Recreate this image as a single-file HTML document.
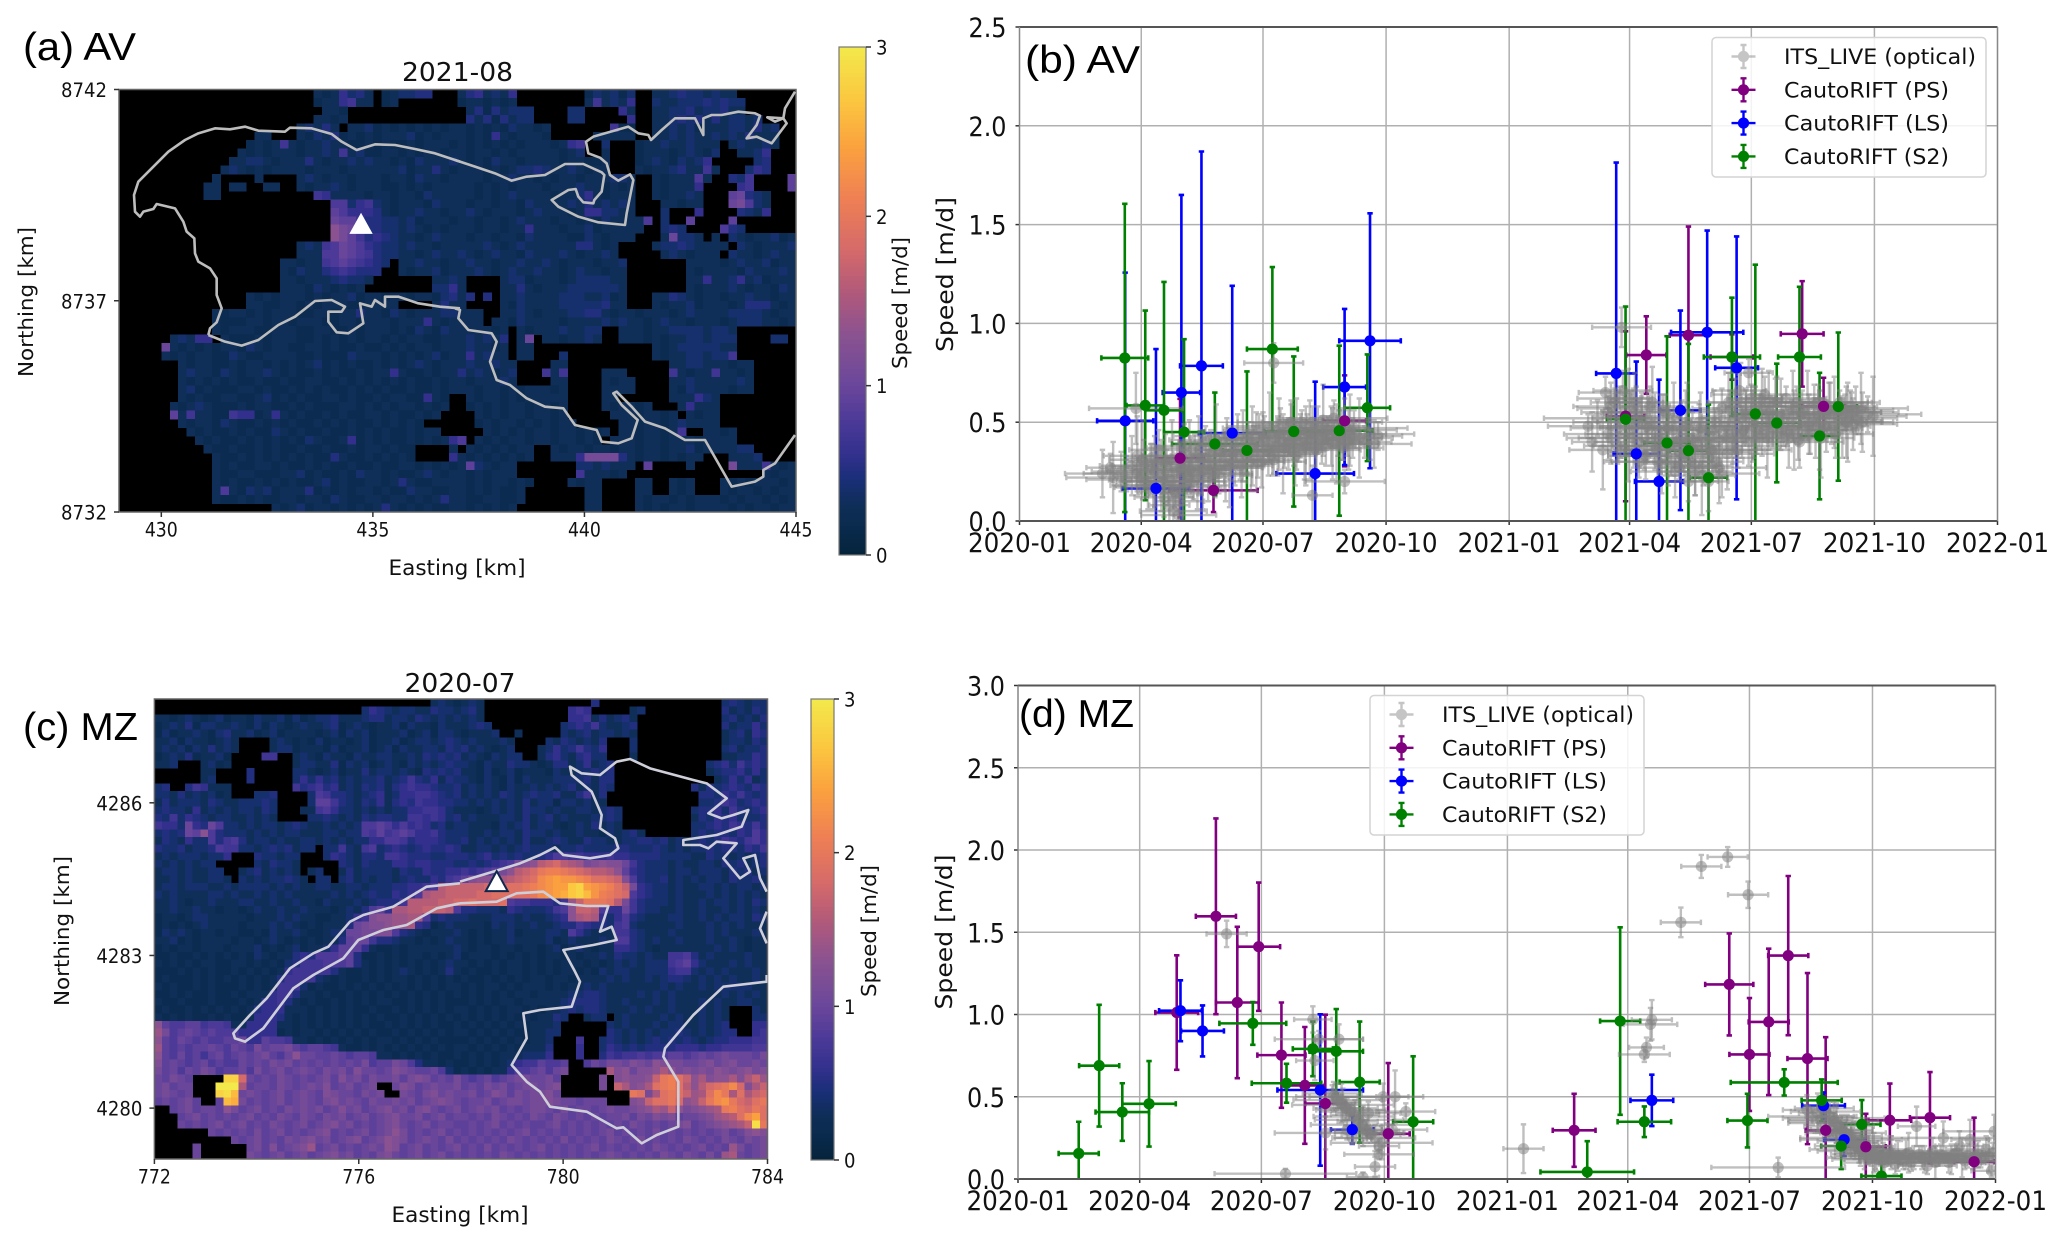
<!DOCTYPE html>
<html lang="en">
<head>
<meta charset="utf-8">
<title>Glacier speed maps and time series</title>
<style>
html,body{margin:0;padding:0;background:#fff;}
svg{display:block;}
text{fill:#111;}
.panel-tag{font-family:"Liberation Sans",sans-serif;font-size:39px;fill:#000;}
</style>
</head>
<body>
<svg id="figure" xmlns="http://www.w3.org/2000/svg" width="2067" height="1247" viewBox="0 0 2067 1247">
<rect x="0" y="0" width="2067" height="1247" fill="#ffffff"/>
<defs>
<clipPath id="clip-a"><rect x="119" y="89.5" width="677" height="422.5"/></clipPath>
<clipPath id="clip-b"><rect x="1019.5" y="27" width="978" height="494"/></clipPath>
<clipPath id="clip-c"><rect x="154.4" y="699" width="613.1" height="460"/></clipPath>
<clipPath id="clip-d"><rect x="1018" y="685.5" width="977.5" height="493.5"/></clipPath>
</defs>
<g id="layer-a"></g>
<g id="layer-c"></g>
<g id="layer-b"></g>
<g id="layer-d"></g>
<g clip-path="url(#clip-a)" fill="none" stroke="#bdbdbd" stroke-width="2.6" stroke-linejoin="round">
<g transform="translate(115 85) scale(.33333)">
<path vector-effect="non-scaling-stroke" d="M280 750L285 730L305 712L320 670L305 630L305 580L285 550L250 530L240 505L238 460L215 440L205 410L180 370L125 357L115 372L85 380L75 395L60 380L57 330L70 290L100 260L130 230L160 200L210 165L250 145L300 130L345 133L390 125L430 137L510 140L525 128L590 130L650 147L680 170L725 195L780 178L840 180L900 192L960 205L1035 230"/>
<path vector-effect="non-scaling-stroke" d="M280 750L330 770L380 782L430 765L490 720L540 695L600 648L650 645L690 665L680 680L640 680L640 710L665 742L700 745L745 715L735 655L770 665L780 645L810 665L810 635L850 635L910 655L975 665L1035 670"/>
</g>
<g transform="translate(455 85) scale(.33333)">
<path vector-effect="non-scaling-stroke" d="M0 225L60 245L120 265L170 287L215 275L270 270L330 237L385 237L440 262L448 270L440 320L418 345L415 355L385 352L370 335L362 312L340 315L290 345L310 365L370 395L430 412L510 420L515 385L530 310L535 285L525 268L490 287L465 270L455 235L435 218L400 205L393 170L415 155L520 125L550 145L580 150L588 165L620 135L660 100L720 100L745 150L745 100L770 90L800 90L850 80L900 85L915 92L905 120L875 160L905 155L950 175L995 115L985 100L960 110L937 97L985 100L990 70L1020 20"/>
<path vector-effect="non-scaling-stroke" d="M0 670L15 675L10 700L40 735L110 745L125 770L105 830L125 885L165 900L215 940L270 965L325 970L360 1020L425 1035L440 1070L490 1075L530 1060L548 1005L500 960L475 925L485 920L530 965L570 1010L630 1030L690 1065L750 1065L830 1205L900 1190L925 1175L925 1155L960 1135L1020 1050"/>
</g>
</g>
<g clip-path="url(#clip-c)" fill="none" stroke="#cfcfda" stroke-width="2.6" stroke-linejoin="round">
<g transform="translate(150 695) scale(.33333)">
<path vector-effect="non-scaling-stroke" d="M930 565L830 575L730 635L640 660L600 680L535 755L490 775L420 820L350 910L300 960L250 1015L255 1030L285 1040L340 1000L430 880L490 840L580 790L625 735L700 705L770 690L860 640L930 625"/>
</g>
<g transform="translate(460 695) scale(.33333)">
<path vector-effect="non-scaling-stroke" d="M0 560L100 530L180 505L240 480L285 457L310 480L390 490L450 480L475 460L465 430L420 400L425 360L395 290L335 240L330 215L365 235L420 240L470 200L510 192L570 220L700 255L740 265L800 310L745 355L785 370L820 360L865 345L845 395L770 420L670 435L670 450L720 450L745 460L770 440L830 445L790 490L840 550L870 530L850 490L885 480L900 550L920 590"/>
<path vector-effect="non-scaling-stroke" d="M0 625L110 620L170 595L250 590L300 625L380 633L445 633L420 710L455 695L470 735L400 750L310 765L345 830L360 860L335 935L240 945L190 955L200 1030L155 1110L200 1160L240 1190L270 1235L380 1250L470 1300L490 1297L545 1345L590 1320L655 1295L655 1160L610 1085L615 1060L700 960L790 875L920 860L920 840"/>
<path vector-effect="non-scaling-stroke" d="M920 650L900 700L920 745"/>
</g>
</g>
<g id="layer-overlay"></g>
<text class="panel-tag" x="23" y="60" textLength="113" lengthAdjust="spacingAndGlyphs">(a) AV</text>
<text class="panel-tag" x="1025" y="73" textLength="115" lengthAdjust="spacingAndGlyphs">(b) AV</text>
<text class="panel-tag" x="23" y="740" textLength="115" lengthAdjust="spacingAndGlyphs">(c) MZ</text>
<text class="panel-tag" x="1019" y="727" textLength="115" lengthAdjust="spacingAndGlyphs">(d) MZ</text>
</svg>
<script>
// ---------- Map data: one character per cell, speed in tenths of m/d (base 36), "." = no data ----------
const speedGridA = [
".......... .......... ...3236453 .234455... 3563436... .....24342 4..3345443 433.......",
".......... .......... ...2336733 .23....... 2332323... .....37343 6..4334445 4544......",
".......... .......... ....332... .......... .35253444. ...44....6 3..3344534 4533......",
".......... .......... ...3323... .......... .53525344. ...44..... 6..3345453 534434....",
".......... .......... .34353.334 2323232323 3232324332 3.......72 2..3343423 33443534..",
".......... ......33.. .324352323 2333423233 3232632333 2.....3333 3..3343433 43435333..",
".......... .....23237 3233433223 2322323332 3232323233 32367..4.. .233433433 3.343343..",
".......... ....323233 3233437342 2332323323 3233232333 33234..3.. .233323432 4..3346...",
".......... ...3344323 3353233434 3323243334 3232433233 33233223.. .234324346 .....45...",
".......... ..34323233 3323332333 3334233532 3332323445 43343233.. .323345337 3...465...",
".......... .3....3... .343233233 3233243323 3332334332 3233233344 3..3233383 ..547....9",
".......... 33.33..33. .323343233 3223232333 3323232333 2333433232 3..323336. ...67....9",
".......... 33........ ...7633332 3323324333 3323234333 3233463233 3..323343. ..9a543...",
".......... .......... .....88467 4323332433 3233233243 3334353434 3...33233. ..ab843...",
".......... .......... .....98666 5323343323 3432333234 3332366443 3...4...6. ...5436...",
".......... .......... .....a9975 5443423332 3323323433 3233232433 338.4..9.. ..9.......",
".......... .......... .....dba65 5443432323 3323323363 3323342333 33..454... .854......",
".......... .......... .....db975 6543323433 3233233243 3332243233 3...3a443. 3.43233423",
".......... .......... .34378a986 5443433233 3334323433 333355323. ...3445433 33.4323334",
".......... .......... .33388a987 5443323433 4323433243 334323343. ....343233 3.43323433",
".......... .........3 3233789876 54.3343323 3433233433 4323332334 .......333 3234334233",
".......... .........3 2433567655 5..3233423 3343234334 3323433233 .......323 3332433343",
".......... .........3 3233345443 .......334 3....34423 3323444433 .......336 3346342333",
".......... .........3 332432323. .......446 3....33532 3334444443 .......323 3343233243",
".......... .....32323 3323233423 3233233245 35.5.33433 3344433423 ...3354323 3233433233",
".......... .....33223 3232333223 333....353 3....32433 3344444533 ...3233423 3323555323",
".......... .323323233 3223323353 3243233344 333..33432 3334455323 3233323433 3344443233",
".......... .322233233 2333223323 3323336323 333.332433 3323333434 3323433233 3234443323",
".......... .323332233 3223322323 3323243243 333323.323 3343344..3 3323344443 443.......",
"......3436 6.32223233 3223232323 3232332233 343435.3a. 3323343..3 3323233443 444....44.",
".....a3232 3233243233 2233232232 2323233233 343323.33. .......... ...3234444 433.......",
".....32323 3224322333 3223222433 3232323423 363433.33. ..4....... ...3233443 447.......",
".......323 3223233232 3234232322 3232343233 3433433... .33....... .....33443 33233.....",
".......343 3243233432 3223232232 3363223233 5343234... 737....333 .....73233 73323.....",
".......323 2323223223 2233223232 3232322323 3233343... .33....323 3....33433 33343.....",
".......342 3222332322 3232322323 2322322323 3323323233 323....333 3....32433 33233.....",
".......323 2233223423 2322332322 323322632. .323323233 333....33. .....33364 3.........",
"......3234 3222323322 3232223323 232332323. .232323323 323....323 323...3633 3.........",
"......9373 3227662363 2322323223 32322323.. ..32323323 323.....33 323323.323 3.........",
".......323 3243223232 3223232322 323232.... ..23233232 3233.....3 3233234333 3.........",
"........32 3223232243 2322322323 23223233.. ...3232323 32332323.3 3233237..3 323.......",
".........3 2322323232 3243223623 2322323236 8.32323323 3233232.33 3233233323 333.......",
".......... 3223223232 2322322323 32322....3 .32323233. .323323323 3233233423 33344.....",
".......... .322323232 3232253223 23232....6 323232323. .3336bbbb5 323323233. ..3334....",
".......... .323223323 2232322322 3223323232 3943233... ....443433 3.9....3.. ..b3337323",
".......... .322332223 3423223243 3232234323 3232333... ....733323 .......... ......3233",
".......... .323223232 3223423223 3235322333 323233232. ...3233... .33..323.. .323233323",
".......... .383243423 3352323233 2322433223 32323223.. .....33... .33..323.. .323323233",
".......... .322323223 3233243223 3233232353 32233223.. .....33... .323323233 3232332323",
".......... ........32 3423323232 3532323223 3232323... .....33... .323233233 3323233233"
];
const speedGridC = [
".......... .......... .......... ......3432 343....... .......5.. .......... ....454344",
".......... .......... .......465 4344335443 453....... ....676... ..34...... ....534354",
"3323432342 3324334242 3445333455 3443543434 343....... ....667353 453....... ....453435",
"2343524433 4324243234 3345234323 3424332433 3454...... ...4565743 345....... ....534464",
"2423343245 3342342333 3234243423 3342342443 23334..3.. ...4345344 343....... ....345365",
"3342433234 3....34323 2423323423 3423443454 3433343... .43543435. ..4....... ....344354",
"3434243534 3....34423 3324233423 4243344354 5343234... 346457546. ..4....... ....453445",
"2343523342 ....77..34 3243324334 4334354545 34324344.. 356435644. ..3....... ....334465",
"334...3423 ........34 4335243423 4324343454 4324335443 2355346345 .......... ..45647565",
"......33.. ..5.....44 3234233534 4343254545 3324234233 3243344545 .......... ..34556464",
"......34.. ..5.....46 4645343445 3457546354 4324324243 3344445355 .......... ...3464634",
"45..576333 ........75 6756343545 3567665445 3434324334 3434534354 .......... 5354565465",
"4435343423 ...445.... 4875543456 3466776545 3434354345 445335735. .......... .554657545",
"3534443543 344454.... 4997543546 3565766554 4343434353 442443433. .......... .445764565",
"4544363434 344354...3 3786443434 3446677643 3323434354 4343344345 4......... 4556475456",
"5474654344 334343.... 4454343545 5447767645 3433344353 4534333445 4......... 3546564445",
"7664a65a84 4343443454 3343434889 8686764534 4333243453 4432343534 3......... 4456576575",
"4545a9d854 4434343443 3344344879 7898667544 4334344354 4343343324 3453...... 4545546586",
"3543644857 8534434334 4343434466 8875666544 5343434353 3454335443 3445545343 4545765786",
"5445344587 7443454534 4.44743784 5654565565 3344343454 4434454444 5544454343 4454554657",
"3434443446 ...544344. ..46543554 7765554455 5456454544 5688776667 6655554444 3354434345",
"43434344.. ...435443. ....543544 4665665554 4545678bcd ghigfebcdc ca75444343 3443545345",
"344343344. .34534343. 34..353444 4354465566 76789bdghi kllkjihggf d965444344 3444354534",
"3343433443 .434344543 .44.453434 4345446578 9cddffghij mnonnmljji hc85445343 4344354453",
"3443444334 3444434343 3443344344 4556678ghh hhhiiijjkl mnoorsonml jhb6544343 3443434434",
"4343333443 4334343433 3334343454 46568fgghh hhiijjjjjk mnoprsqnlk ji86544343 3343434343",
"3343233433 3443343343 3243334345 557gggghhi ijiiij8776 6657ehkkkj gb75444343 3434434354",
"3343343323 3234334334 3332343589 6ffgghhhg8 5544436544 4578dhhg86 6a75443343 3433434343",
"2332344333 3323334343 32233467cd deeff84544 4333444343 3456dfgf64 6854333443 3434344354",
"2323234333 3233343432 323335abcc deef652343 3332434334 3345576554 7843333343 3343434333",
"2434323323 3223243343 22344aabbc c854323334 3232334233 3443864333 7754333433 3343433343",
"3342323333 2332343232 323359aa75 5433232343 3232334333 3423433343 8854343343 3343343233",
"2323323332 3334232342 3346999632 2323333334 3233233233 2342343233 6654323333 3334343233",
"2232232323 2324323356 5888995223 2323323234 2333232323 2332323343 5443433778 5343333433",
"3232323322 3323232457 7788895323 2323232343 3232323323 2323332323 4343444789 6433343433",
"2223232322 3232323677 7775322323 2343232353 2322323323 2323323243 4433444677 4343433343",
"2322232323 2323235777 7432322323 2332323232 3223232323 3233233334 3433434554 3434343343",
"3232232322 2323237774 2322323232 3232323233 2323323233 3232334343 3333334343 3434444433",
"2232322322 3233367753 3232232323 2323232323 2323232332 3333445543 3334343433 3333434343",
"3223222322 2323667532 3223232323 3223232322 2323233233 3334555543 3433343433 3434334433",
"2322323232 3235666333 2323232232 2323232323 3232323323 2334545543 3343433433 34343...43",
"3232322323 2236665323 2323232323 2232323232 3232323232 3354..344. 3433334343 34343...44",
"d988997887 3366663323 2323232322 3232323223 2323232323 334......4 3433343443 34345...66",
"eb89a98988 8666662323 3232323232 2323232323 3232323223 344......5 4343434454 343455..67",
"d98a989889 9a66988733 2323232323 3232323222 2323232323 34...7..45 4343454545 4345566677",
"e989899a98 a98b9aab98 9987322323 2323232323 3232323233 35...6..46 5454555566 6566777788",
"d98a8979a8 9a9ab98ada a99a989983 3232323223 2323233344 46...6..57 6778788998 9a9abaaa9b",
"c9a989a898 8a9a9bab9a 9a9a9a9b89 9ba8533232 2323234677 9889..8a9b bacbadcbba abcabcaaba",
"b9a8a9ba89 9a8b9ab9ab a9bab9caa9 acba99a842 3232336889 a8ab.....f cdaccdfdbc bcbdcbcdbc",
"a9ba9....s sia9a9ba9a 9ab9cab9ba ab9bcb9a9b 989a89abba ab9.....b. cdccdhkljh dfcddfcfhe",
"ab9aa...uu uf9aa9ba9a bac9ab9ab. .acb9abaab 9a9bab9abb abc.....b. hfcdfjkljg dgijkmicfh",
"aba9a...st qaba9ab9ab a9cbaa9bab ..ba9bcaba ab9acb9bab bca....... ..kjbfjkjh efjmkfjfhi",
"9a9ab9..9q pb9a9ab9ab a9bcaba9ba abab9abcba 9aab9abbab bcbaa9aaa. ..cdhjjkid ehkmnkihjk",
"..9ab9aa9d b9ab9a9bab ab9acab9ab cab9bca9ab 9abab9a9ab ba9b9aa9ab aabcdfehdb cdefkljikj",
"...9ab9a9a 9ab9a9ba9b a9bab9ab9a bcaab9ab9a a9a9ba9a9b a9ba9a9a9a ab9bacbc9a abcefgjmoj",
"...a9a9ab9 ab9a9ba9ab 9abcab9a9a bca9ab9aa9 9a9ab9a9a9 9ab9a9a9a9 a9ba9a9abc 9abcdefhtk",
".......a9a 9a9b9ab9a9 abc9a9ab9a bdb9a9ab9a 9a9a9a9ab9 a9a9a9a9ab 9a9a9b9a9a 9a9ab9acdc",
".......... a9ab9a9bab cab9abc9ab dcb9aba9b9 a9a9a9ba9a 9a9b9a9a9b a9ab9a9a9b a9a9ba9bab",
".....a.... ..ab9c9abc e9ab9a9aba dc9ab9a9ab 9a9b9a9a9a b9a9a9ab9a 9a9a9ba9a9 ab9a9eb9ab",
".....a.... ..ba9ab9ab 9abcab9a9b ca9ab9ab9a 9a9a9ba9a9 a9a9a9a9ab a9a9a9ba9b a9b9efa9ab"
];
const stationEastA = 434.72, stationNorthA = 8738.82;
const stationEastC = 778.7, stationNorthC = 4284.46;
const xTicksA = [430, 435, 440, 445];
const yTicksA = [8732, 8737, 8742];
const xTicksC = [772, 776, 780, 784];
const yTicksC = [4280, 4283, 4286];
const colorbarTicks = [0, 1, 2, 3];
const thermalStops = ["#05233a","#092a4c","#0f2e58","#1a2f78","#33308d","#4d3a98","#6a469b","#8a5290","#b0597a","#d56a6a","#ee7f55","#fba03f","#fbc840","#f3e94b"];
const thermalSpeeds = [0, 0.15, 0.3, 0.45, 0.6, 0.8, 1, 1.3, 1.55, 1.8, 2.1, 2.4, 2.7, 3];

// ---------- Time series data: days since 2020-01-01, speed in m/d ----------
const dateTickLabels = ["2020-01","2020-04","2020-07","2020-10","2021-01","2021-04","2021-07","2021-10","2022-01"];
const speedTicksB = [0, 0.5, 1, 1.5, 2, 2.5];
const speedTicksD = [0, 0.5, 1, 1.5, 2, 2.5, 3];
const legendLabels = ["ITS_LIVE (optical)","CautoRIFT (PS)","CautoRIFT (LS)","CautoRIFT (S2)"];
const legendColors = ["#808080","#800080","#0000ff","#008000"];

// Panel b, AV
const itsDaysB = [62,68,70,76,80,84,88,92,95,98,100,103,106,108,110,112,113,115,116,118,119,120,122,124,126,128,130,134,138,142,146,150,154,158,162,166,170,174,178,182,186,190,194,198,202,206,210,214,218,222,226,230,234,238,242,246,250,254,258,262,265,268,87,190,243,219,203,
88,90,93,96,99,101,104,107,109,111,114,117,120,123,125,127,129,131,133,135,137,139,141,143,145,147,149,151,153,155,157,159,161,163,165,167,169,171,173,175,177,179,181,183,185,187,189,191,193,195,197,199,201,203,205,207,209,211,213,215,217,219,221,223,225,227,229,231,233,235,237,239,241,243,245,247,249,
425,428,432,436,438,440,442,445,447,450,452,455,458,460,463,465,468,470,473,475,478,480,483,485,488,490,493,495,498,500,503,505,508,510,513,515,518,520,523,525,528,530,533,535,538,540,543,545,548,550,553,555,558,560,563,566,570,574,578,582,586,590,594,598,602,606,610,614,618,622,626,630,634,638,
440,442,445,447,449,451,453,455,457,459,461,463,465,467,469,471,473,475,477,479,481,483,485,487,489,491,493,495,497,499,501,503,505,507,509,511,513,515,517,519,521,523,525,527,529,531,533,535,537,539,541,543,545,547,549,551,553,555,557,559,561,563,565,567,569,571,573,575,577,579,581,583,585,587,589,591,593,595,597,599,601,603,605,607,609,611,613,615,617,619,621,623,625,627,629];
const itsSpeedsB = [.24,.27,.22,.25,.21,.28,.24,.31,.2,.26,.18,.29,.23,.12,.3,.08,.2,.05,.15,.26,.03,.1,.18,.3,.22,.27,.2,.33,.26,.3,.24,.34,.28,.31,.36,.27,.33,.38,.3,.42,.35,.31,.44,.37,.4,.33,.45,.38,.42,.36,.41,.46,.39,.43,.37,.41,.47,.42,.4,.44,.39,.43,.57,.8,.2,.13,.5,
.33,.22,.28,.18,.32,.25,.36,.2,.29,.17,.31,.14,.27,.37,.2,.33,.25,.38,.21,.3,.26,.4,.23,.34,.28,.41,.24,.36,.3,.43,.27,.35,.31,.42,.28,.38,.33,.44,.3,.39,.35,.46,.3,.41,.36,.47,.33,.42,.38,.48,.34,.43,.39,.49,.35,.44,.4,.5,.36,.45,.41,.5,.37,.46,.42,.51,.38,.47,.43,.52,.39,.48,.44,.5,.4,.46,.42,
.48,.4,.52,.36,.65,.44,.58,.6,.47,.98,.38,.62,.42,.55,.3,.5,.33,.47,.6,.36,.42,.29,.55,.38,.46,.25,.41,.33,.48,.2,.37,.28,.5,.23,.44,.32,.35,.5,.27,.57,.42,.6,.38,.52,.66,.45,.55,.75,.48,.58,.43,.62,.5,.56,.47,.6,.52,.45,.58,.41,.55,.49,.6,.46,.53,.57,.44,.56,.5,.55,.52,.5,.54,.53,
.55,.42,.62,.38,.5,.66,.44,.35,.57,.47,.6,.4,.53,.33,.48,.58,.38,.5,.3,.44,.56,.36,.47,.3,.52,.4,.27,.46,.34,.5,.3,.42,.25,.38,.47,.28,.4,.2,.36,.46,.3,.41,.24,.48,.34,.56,.42,.5,.36,.6,.46,.53,.4,.62,.5,.44,.58,.48,.64,.42,.55,.5,.6,.44,.54,.48,.62,.42,.52,.46,.6,.4,.54,.48,.58,.44,.52,.47,.6,.42,.54,.48,.58,.46,.55,.5,.6,.47,.55,.5,.58,.49,.56,.51,.57];
const itsDayErrB = [28,18,35,22,30,15,40,25,20,33];
const itsSpeedErrB = [.12,.07,.18,.1,.06,.15,.09,.2,.08,.13];
const psDaysB = [120,145,243,453,468.5,500,532.5,585,601];
const psSpeedsB = [.318,.155,.507,.53,.84,.94,.83,.947,.58];
const psDayErrB = [18,33,16,14,15,14,16,16,16];
const psSpeedErrB = [.3,.11,.23,.43,.196,.55,.115,.267,.145];
const lsDaysB = [79,102,121,136,159,221,243,262,446,461,478,494,514,536];
const lsSpeedsB = [.507,.165,.65,.785,.445,.24,.678,.912,.747,.34,.2,.56,.955,.775];
const lsDayErrB = [21,25,14,16,25,29,16,23,15,17,18,15,27,16];
const lsSpeedErrB = [.75,.705,1,1.085,.745,.465,.395,.645,1.067,.467,.515,.505,.515,.665];
const s2DaysB = [78.7,94,108,123,146,170,189,205,239,260,453,484,500,515,532.5,550,566,583,598,612];
const s2SpeedsB = [.825,.585,.56,.45,.39,.357,.87,.453,.457,.573,.515,.395,.356,.219,.83,.542,.496,.83,.43,.579];
const s2DayErrB = [17.5,14,14,15,32,18,19,22,25,17,14,17,14,14,21,16,18,16,14,14];
const s2SpeedErrB = [.78,.48,.65,.47,.26,.4,.415,.38,.43,.27,.57,.54,.54,.37,.3,.755,.3,.355,.32,.375];

// Panel d, MZ
const itsDaysD = [156,200,220.5,282,378,258,267,470,468.4,474,473,495.7,511,530.7,546,568.5];
const itsSpeedsD = [1.49,.032,.97,.5,.184,.01,.075,.8,.757,.968,.94,1.56,1.9,1.958,1.728,.07];
const itsDayErrD = [15,53,14,10,15,12,15,13,19,15,20,15,15,15,15,50];
const itsSpeedErrD = [.08,.03,.08,.16,.148,.03,.06,.06,.045,.12,.1,.09,.07,.06,.08,.06];
const itsClusterDaysD = [235,238,241,243,246,249,252,255,258,261,264,267,270,272,276,280,240,225,222,262,290,273,250,230,246,270,236,239,242,245,248,251,254,257,260,263,
590,594,598,600,603,606,608,610,612,614,616,618,620,622,624,626,628,630,632,634,636,638,640,642,645,648,650,653,656,660,664,668,672,676,680,684,688,692,696,700,704,708,712,716,720,724,728,730,
601,604,607,610,612,615,617,619,621,623,625,627,629,631,633,635,637,641,644,647,651,655,658,662,666,670,674,678,682,686,690,694,698,702,706,710,714,718,722,726,729];
const itsClusterSpeedsD = [.52,.5,.47,.45,.43,.42,.39,.36,.32,.29,.27,.25,.2,.22,.28,.3,.85,.85,.72,.4,.41,.5,.25,.28,.3,.15,.5,.48,.46,.43,.41,.38,.35,.33,.3,.28,
.42,.38,.4,.36,.43,.34,.3,.37,.28,.32,.3,.25,.27,.23,.26,.2,.22,.18,.2,.15,.18,.13,.16,.12,.14,.1,.13,.16,.09,.12,.15,.1,.32,.13,.08,.17,.12,.25,.1,.15,.2,.11,.24,.14,.12,.18,.05,.29,
.44,.41,.38,.35,.34,.3,.29,.28,.25,.24,.22,.2,.19,.17,.18,.16,.15,.14,.13,.12,.14,.13,.14,.11,.16,.13,.15,.12,.14,.1,.15,.13,.12,.16,.13,.14,.11,.15,.13,.14,.16];
const itsClusterDayErrD = [22,30,15,38,12,26,18,33,14,24];
const itsClusterSpeedErrD = [.05,.08,.04,.1,.06,.03,.09,.05,.12,.07];
const psDaysD = [118.7,148,164,180,197,214.5,229.8,276.9,415.9,531.9,547,561.4,576,590.4,604,634,652,682,715];
const psSpeedsD = [1.012,1.597,1.073,1.412,.753,.569,.459,.275,.296,1.183,.757,.955,1.358,.732,.296,.196,.357,.373,.105];
const psDayErrD = [16,15,16,16,18,15,15,16,16,18,15,15,15,15,15,15,16,15,15];
const psSpeedErrD = [.348,.595,.46,.39,.32,.355,.54,.43,.222,.31,.343,.445,.484,.52,.566,.2,.223,.277,.268];
const lsDaysD = [121.5,138,226,250,474,602.4,617.8];
const lsSpeedsD = [1.023,.9,.541,.3,.478,.446,.239];
const lsDayErrD = [16,16,32,16,16,16,15];
const lsSpeedErrD = [.185,.155,.46,.084,.156,.08,.1];
const s2DaysD = [45.4,60.7,78,98,175.6,200.8,220.5,238,255.5,295.5,425.7,450.3,468.4,545.5,573,601,615.6,631,645.7];
const s2SpeedsD = [.155,.689,.407,.457,.946,.582,.791,.776,.589,.348,.043,.96,.348,.355,.587,.478,.2,.332,.018];
const s2DayErrD = [15,15,20,20,25,26,15,20,15,15,35,15,20,15,40,15,15,14,15];
const s2SpeedErrD = [.193,.37,.175,.26,.13,.118,.166,.257,.368,.398,.187,.57,.093,.163,.08,.127,.14,.148,.15];

// ---------- Drawing ----------
const NS = "http://www.w3.org/2000/svg";
const TICK_FONT = '"DejaVu Sans",sans-serif';
function make(parent, tag, attrs){
  const el = document.createElementNS(NS, tag);
  for (const k in attrs) el.setAttribute(k, attrs[k]);
  parent.appendChild(el);
  return el;
}
function label(parent, x, y, str, size, anchor, len, name, rotate){
  const el = make(parent, "text", {x:x, y:y, "font-size":size, "font-family":TICK_FONT, "text-anchor":anchor});
  if (len) { el.setAttribute("textLength", len); el.setAttribute("lengthAdjust", "spacingAndGlyphs"); }
  if (rotate) el.setAttribute("transform", "rotate(-90 " + x + " " + y + ")");
  el.textContent = str;
  
  
  return el;
}
function hexToRgb(h){ return [parseInt(h.substr(1,2),16),parseInt(h.substr(3,2),16),parseInt(h.substr(5,2),16)]; }
function speedColor(v){
  let i = 0;
  while (i < thermalSpeeds.length-2 && v > thermalSpeeds[i+1]) i++;
  const t = Math.max(0, Math.min(1, (v-thermalSpeeds[i])/(thermalSpeeds[i+1]-thermalSpeeds[i])));
  const a = hexToRgb(thermalStops[i]), b = hexToRgb(thermalStops[i+1]);
  return "rgb(" + a.map((c,k)=>Math.round(c+(b[k]-c)*t)).join(",") + ")";
}

function drawMap(cfg){
  const g = document.getElementById(cfg.layer);
  const sx = v => cfg.left + (v-cfg.xMin)/(cfg.xMax-cfg.xMin)*(cfg.right-cfg.left);
  const sy = v => cfg.bottom - (v-cfg.yMin)/(cfg.yMax-cfg.yMin)*(cfg.bottom-cfg.top);
  const bg = make(g, "rect", {x:cfg.left, y:cfg.top, width:cfg.right-cfg.left, height:cfg.bottom-cfg.top, fill:"#000"});
  
  
  const rows = cfg.grid.length;
  const cw = (cfg.right-cfg.left)/cfg.cols, ch = (cfg.bottom-cfg.top)/rows;
  const cells = make(g, "g", {"shape-rendering":"crispEdges"});
  
  
  cfg.grid.forEach((row, r) => {
    row.split(" ").forEach((block, b) => {
      for (let i = 0; i < block.length; i++) {
        const ch0 = block[i];
        if (ch0 === ".") continue;
        const speed = parseInt(ch0, 36)/10;
        const rect = make(cells, "rect", {x:(cfg.left+(b*10+i)*cw).toFixed(2), y:(cfg.top+r*ch).toFixed(2), width:(cw+.4).toFixed(2), height:(ch+.4).toFixed(2), fill:speedColor(speed)});
        
        
      }
    });
  });
  const frame = make(g, "rect", {x:cfg.left, y:cfg.top, width:cfg.right-cfg.left, height:cfg.bottom-cfg.top, fill:"none", stroke:"#666", "stroke-width":1.5});
  
  
  cfg.xTicks.forEach(t => {
    const tick = make(g, "line", {x1:sx(t), x2:sx(t), y1:cfg.bottom, y2:cfg.bottom+5, stroke:"#333", "stroke-width":1.5});
    
    
    label(g, sx(t), cfg.bottom+24.5, String(t), 19.5, "middle", 33, "x-tick-label");
  });
  cfg.yTicks.forEach(t => {
    const tick = make(g, "line", {x1:cfg.left-5, x2:cfg.left, y1:sy(t), y2:sy(t), stroke:"#333", "stroke-width":1.5});
    
    
    label(g, cfg.left-12, sy(t)+7.5, String(t), 19.5, "end", 46, "y-tick-label");
  });
  label(g, cfg.titleX, cfg.titleY, cfg.title, 26, "middle", 111, "map-title");
  label(g, cfg.xLabelX, cfg.xLabelY, "Easting [km]", 21, "middle", 137, "x-axis-title");
  label(g, cfg.yLabelX, cfg.yLabelY, "Northing [km]", 20, "middle", 150, "y-axis-title", true);
  // colour bar
  const cb = make(g, "g", {"shape-rendering":"crispEdges"});
  
  
  const steps = 120, h = (cfg.cbBottom-cfg.cbTop)/steps;
  for (let i = 0; i < steps; i++) {
    const s = make(cb, "rect", {x:cfg.cbLeft, y:(cfg.cbBottom-(i+1)*h).toFixed(2), width:cfg.cbRight-cfg.cbLeft, height:(h+.5).toFixed(2), fill:speedColor((i+.5)/steps*3)});
    
    
  }
  const cbf = make(g, "rect", {x:cfg.cbLeft, y:cfg.cbTop, width:cfg.cbRight-cfg.cbLeft, height:cfg.cbBottom-cfg.cbTop, fill:"none", stroke:"#777", "stroke-width":1.2});
  
  
  colorbarTicks.forEach(t => {
    const y = cfg.cbBottom - t/3*(cfg.cbBottom-cfg.cbTop);
    const tick = make(g, "line", {x1:cfg.cbRight, x2:cfg.cbRight+5, y1:y, y2:y, stroke:"#333", "stroke-width":1.5});
    
    
    label(g, cfg.cbRight+10, y+7.5, String(t), 19.5, "start", 11.5, "colorbar-tick-label");
  });
  label(g, cfg.cbLabelX, cfg.cbLabelY, "Speed [m/d]", 20, "middle", 132, "colorbar-title", true);
  // station marker
  const ov = document.getElementById("layer-overlay");
  const px = sx(cfg.stationX), py = sy(cfg.stationY);
  const tri = make(ov, "polygon", {points:[[px,py-cfg.triH],[px-cfg.triW,py+cfg.triH],[px+cfg.triW,py+cfg.triH]].join(" "), fill:"#fff", stroke:cfg.triStroke, "stroke-width":2, "stroke-linejoin":"miter"});
  
  
}

function dayOfLabel(s){
  const p = s.split("-");
  return (Date.UTC(+p[0], +p[1]-1, 1) - Date.UTC(2020, 0, 1)) / 86400000;
}

function plotBars(g, sx, sy, days, speeds, dayErrs, speedErrs, color, opacity, width, name){
  days.forEach((d, i) => {
    const v = speeds[i];
    const dx = dayErrs[i % dayErrs.length], dy = speedErrs[i % speedErrs.length];
    const x = sx(d), y = sy(v);
    const capH = 2.7, capV = 2.7;
    const bar = make(g, "path", {d:"M"+sx(d-dx)+" "+y+"H"+sx(d+dx)+"M"+sx(d-dx)+" "+(y-capH)+"V"+(y+capH)+"M"+sx(d+dx)+" "+(y-capH)+"V"+(y+capH)+
      "M"+x+" "+sy(v-dy)+"V"+sy(v+dy)+"M"+(x-capV)+" "+sy(v-dy)+"H"+(x+capV)+"M"+(x-capV)+" "+sy(v+dy)+"H"+(x+capV), fill:"none", stroke:color, "stroke-width":width, opacity:opacity});
    
    
  });
}
function plotDots(g, sx, sy, days, speeds, color, opacity, name){
  days.forEach((d, i) => {
    const dot = make(g, "circle", {cx:sx(d), cy:sy(speeds[i]), r:5.6, fill:color, opacity:opacity});
    
    
  });
}

function drawSeries(cfg){
  const g = document.getElementById(cfg.layer);
  const sx = d => cfg.left + d/731*(cfg.right-cfg.left);
  const sy = v => cfg.bottom - v/cfg.yMax*(cfg.bottom-cfg.top);
  const plotBg = make(g, "rect", {x:cfg.left, y:cfg.top, width:cfg.right-cfg.left, height:cfg.bottom-cfg.top, fill:"#fff"});
  
  
  dateTickLabels.forEach(t => {
    const x = sx(dayOfLabel(t));
    const grid = make(g, "line", {x1:x, x2:x, y1:cfg.top, y2:cfg.bottom, stroke:"#b0b0b0", "stroke-width":1.5});
    
    
    const tick = make(g, "line", {x1:x, x2:x, y1:cfg.bottom, y2:cfg.bottom+4, stroke:"#333", "stroke-width":1.5});
    
    
    label(g, x, cfg.bottom+31, t, 27, "middle", 103, "x-tick-label");
  });
  cfg.yTicks.forEach(t => {
    const y = sy(t);
    const grid = make(g, "line", {x1:cfg.left, x2:cfg.right, y1:y, y2:y, stroke:"#b0b0b0", "stroke-width":1.5});
    
    
    const tick = make(g, "line", {x1:cfg.left-4, x2:cfg.left, y1:y, y2:y, stroke:"#333", "stroke-width":1.5});
    
    
    label(g, cfg.left-13, y+10, t.toFixed(1), 27, "end", 38, "y-tick-label");
  });
  const series = make(g, "g", {"clip-path":"url(#"+cfg.clip+")"});
  
  
  // colored error bars sit under the grey optical cloud; their markers sit on top
  cfg.colored.forEach(s => plotBars(series, sx, sy, s[0], s[1], s[2], s[3], s[4], 1, 2.6, s[5]+"-errorbar"));
  cfg.grey.forEach(s => {
    plotBars(series, sx, sy, s[0], s[1], s[2], s[3], "#808080", .5, 2.4, "its-live-errorbar");
    plotDots(series, sx, sy, s[0], s[1], "#808080", .5, "its-live-point");
  });
  cfg.colored.forEach(s => plotDots(series, sx, sy, s[0], s[1], s[4], 1, s[5]+"-point"));
  const spine = make(g, "path", {d:"M"+cfg.left+" "+cfg.top+"H"+cfg.right+"M"+cfg.left+" "+cfg.bottom+"H"+cfg.right, stroke:"#555", "stroke-width":2, fill:"none"});
  
  
  const sides = make(g, "path", {d:"M"+cfg.left+" "+cfg.top+"V"+cfg.bottom+"M"+cfg.right+" "+cfg.top+"V"+cfg.bottom, stroke:"#888", "stroke-width":1.3, fill:"none"});
  
  
  label(g, cfg.yLabelX, cfg.yLabelY, "Speed [m/d]", 23, "middle", 155, "y-axis-title", true);
  // legend
  const lg = make(g, "g", {});
  
  
  const box = make(lg, "rect", {x:cfg.lgX, y:cfg.lgY, width:274, height:cfg.lgH, rx:4, fill:"#fff", "fill-opacity":.85, stroke:"#d4d4d4", "stroke-width":1.5});
  
  
  legendLabels.forEach((t, i) => {
    const y = cfg.lgY + 19 + i*33.3, x = cfg.lgX + 31.5;
    const entry = make(lg, "g", {opacity:i===0?.45:1});
    
    
    make(entry, "path", {d:"M"+(x-12)+" "+y+"H"+(x+12)+"M"+x+" "+(y-11.5)+"V"+(y+11.5)+"M"+(x-3)+" "+(y-11.5)+"H"+(x+3)+"M"+(x-3)+" "+(y+11.5)+"H"+(x+3), stroke:legendColors[i], "stroke-width":2.4, fill:"none"});
    make(entry, "circle", {cx:x, cy:y, r:5.6, fill:legendColors[i]});
    label(lg, cfg.lgX+72, y+7.5, t, 21, "start", i===0?192:165, "legend-label");
  });
}

drawMap({layer:"layer-a", grid:speedGridA, cols:80, left:119, right:796, top:89.5, bottom:512, xMin:429, xMax:445, yMin:8732, yMax:8742, xTicks:xTicksA, yTicks:yTicksA,
  title:"2021-08", titleX:457.5, titleY:81, xLabelX:457, xLabelY:575, yLabelX:33, yLabelY:302,
  cbLeft:839, cbRight:866, cbTop:47, cbBottom:555, cbLabelX:907, cbLabelY:303, stationX:stationEastA, stationY:stationNorthA, triW:10, triH:9, triStroke:"#ffffff"});
drawMap({layer:"layer-c", grid:speedGridC, cols:80, left:154.4, right:767.5, top:699, bottom:1159, xMin:772, xMax:784, yMin:4279, yMax:4288.04, xTicks:xTicksC, yTicks:yTicksC,
  title:"2020-07", titleX:460, titleY:692, xLabelX:460, xLabelY:1222, yLabelX:69, yLabelY:931,
  cbLeft:811, cbRight:834, cbTop:699, cbBottom:1160, cbLabelX:876, cbLabelY:931, stationX:stationEastC, stationY:stationNorthC, triW:11, triH:10, triStroke:"#10284f"});
drawSeries({layer:"layer-b", clip:"clip-b", left:1019.5, right:1997.5, top:27, bottom:521, yMax:2.5, yTicks:speedTicksB, yLabelX:953, yLabelY:274.5, lgX:1712, lgY:37.5, lgH:139.5,
  grey:[[itsDaysB, itsSpeedsB, itsDayErrB, itsSpeedErrB]],
  colored:[
    [psDaysB, psSpeedsB, psDayErrB, psSpeedErrB, "#800080", "cautorift-ps"],
    [lsDaysB, lsSpeedsB, lsDayErrB, lsSpeedErrB, "#0000ff", "cautorift-ls"],
    [s2DaysB, s2SpeedsB, s2DayErrB, s2SpeedErrB, "#008000", "cautorift-s2"]
  ]});
drawSeries({layer:"layer-d", clip:"clip-d", left:1018, right:1995.5, top:685.5, bottom:1179, yMax:3, yTicks:speedTicksD, yLabelX:952, yLabelY:932, lgX:1370, lgY:695.5, lgH:139.5,
  grey:[[itsClusterDaysD, itsClusterSpeedsD, itsClusterDayErrD, itsClusterSpeedErrD],[itsDaysD, itsSpeedsD, itsDayErrD, itsSpeedErrD]],
  colored:[
    [psDaysD, psSpeedsD, psDayErrD, psSpeedErrD, "#800080", "cautorift-ps"],
    [lsDaysD, lsSpeedsD, lsDayErrD, lsSpeedErrD, "#0000ff", "cautorift-ls"],
    [s2DaysD, s2SpeedsD, s2DayErrD, s2SpeedErrD, "#008000", "cautorift-s2"]
  ]});
</script>
</body>
</html>
